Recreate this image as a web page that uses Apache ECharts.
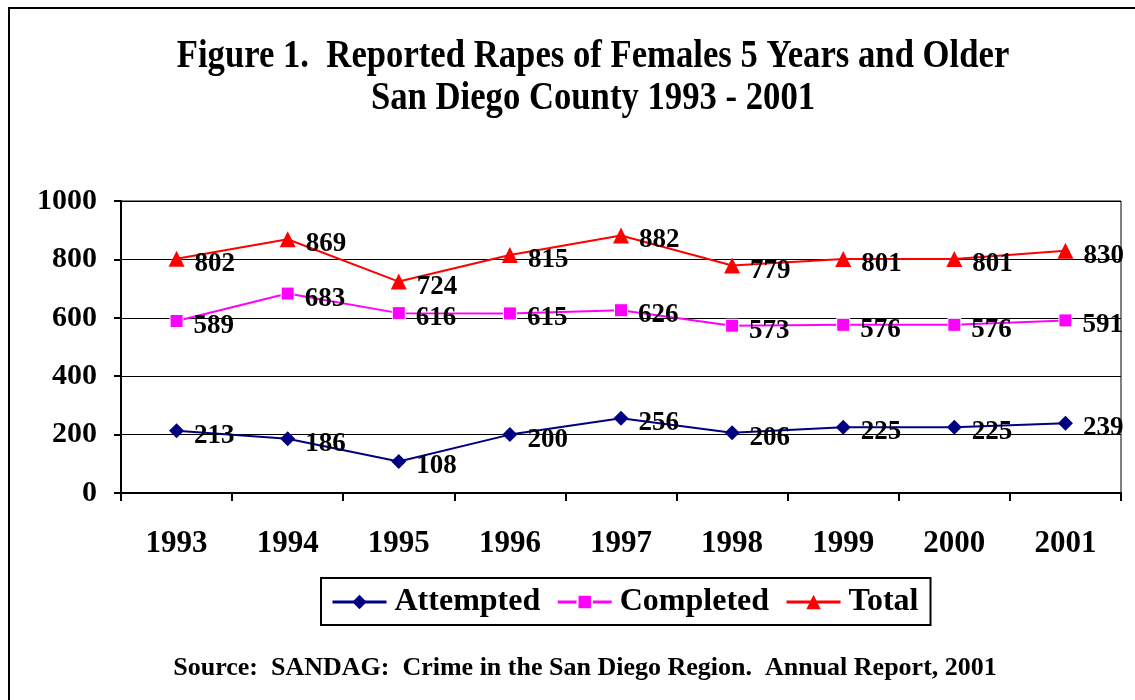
<!DOCTYPE html>
<html><head><meta charset="utf-8">
<script src="https://cdn.jsdelivr.net/npm/echarts@6/dist/echarts.min.js"></script>
<style>html,body{margin:0;padding:0;background:#fff}#c{width:1135px;height:700px}</style>
</head><body><div id="c"></div>
<script>
const years = ['1993','1994','1995','1996','1997','1998','1999','2000','2001'];
const attempted = [213,186,108,200,256,206,225,225,239];
const completed = [589,683,616,615,626,573,576,576,591];
const total = [802,869,724,815,882,779,801,801,830];
const yTicks = [0,200,400,600,800,1000];
const titleLines = ['Figure 1.  Reported Rapes of Females 5 Years and Older','San Diego County 1993 - 2001'];
const sourceText = 'Source:  SANDAG:  Crime in the San Diego Region.  Annual Report, 2001';

const F = '"Liberation Serif","Times New Roman",serif';
const chart = echarts.init(document.getElementById('c'));
const lbl = {show:true, position:'right', distance:10, offset:[0,5], color:'#000', fontFamily:F, fontWeight:'bold', fontSize:27};
chart.setOption({
  animation:false,
  graphic:[
    {type:'rect', shape:{x:9,y:8,width:1140,height:700}, style:{fill:'none',stroke:'#000',lineWidth:2}, z:-1},
    {type:'text', x:593, y:57, scaleX:1.02, scaleY:1.18, style:{x:0,y:0,text:titleLines[0], font:'bold 34px '+F, fill:'#000', textAlign:'center', textVerticalAlign:'middle'}},
    {type:'text', x:593, y:99, scaleX:1.02, scaleY:1.18, style:{x:0,y:0,text:titleLines[1], font:'bold 34px '+F, fill:'#000', textAlign:'center', textVerticalAlign:'middle'}},
    {type:'text', x:585, y:668, style:{x:0,y:0,text:sourceText, font:'bold 26px '+F, fill:'#000', textAlign:'center', textVerticalAlign:'middle'}},
    {type:'line', shape:{x1:121,y1:201,x2:1121,y2:201}, style:{stroke:'#808080',lineWidth:2}},
    {type:'line', shape:{x1:1121,y1:201,x2:1121,y2:493}, style:{stroke:'#808080',lineWidth:2}}
  ],
  grid:{left:121, right:14, top:201, bottom:207, containLabel:false},
  legend:{
    data:['Attempted','Completed','Total'], left:321, top:578,
    borderColor:'#000', borderWidth:2, padding:[8,12,7,10], itemGap:16, itemWidth:54, itemHeight:18,
    lineStyle:{width:3},
    textStyle:{fontFamily:F, fontWeight:'bold', fontSize:32, color:'#000', padding:[0,0,0,3]}
  },
  xAxis:{
    type:'category', data:years, boundaryGap:true,
    axisLine:{lineStyle:{color:'#000',width:2}},
    axisTick:{show:true, length:8, lineStyle:{color:'#000',width:2}},
    axisLabel:{color:'#000', fontFamily:F, fontWeight:'bold', fontSize:31, margin:35}
  },
  yAxis:{
    type:'value', min:yTicks[0], max:yTicks[yTicks.length-1], interval:200,
    axisLine:{show:true, lineStyle:{color:'#000',width:2}},
    axisTick:{show:true, length:7, lineStyle:{color:'#000',width:2}},
    splitLine:{lineStyle:{color:'#000',width:1}},
    axisLabel:{color:'#000', fontFamily:F, fontWeight:'bold', fontSize:30, margin:24, formatter:v=>String(v)}
  },
  series:[
    {name:'Attempted', type:'line', data:attempted, symbol:'diamond', symbolSize:15, lineStyle:{color:'#000080',width:2}, itemStyle:{color:'#000080'}, label:lbl},
    {name:'Completed', type:'line', data:completed, symbol:'rect', symbolSize:13, lineStyle:{color:'#FF00FF',width:2}, itemStyle:{color:'#FF00FF', borderColor:'#fff', borderWidth:1}, label:lbl},
    {name:'Total', type:'line', data:total, symbol:'triangle', symbolSize:16, lineStyle:{color:'#FF0000',width:2}, itemStyle:{color:'#FF0000'}, label:lbl}
  ]
});
</script></body></html>
